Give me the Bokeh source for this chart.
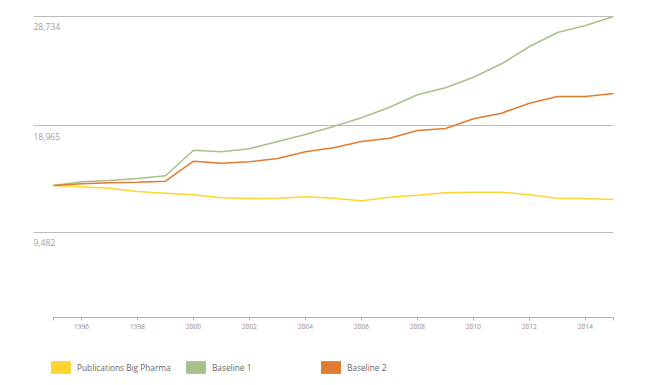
import math
from bokeh.plotting import figure
from bokeh.layouts import column
from bokeh.models import ColumnDataSource, Range1d, FixedTicker, Legend, LegendItem
from bokeh.core.properties import value
from bokeh.embed import file_html
from bokeh.resources import INLINE

years = list(range(1995, 2016))
pharma = [13651, 13535, 13411, 13116, 12965, 12822, 12554, 12492, 12518, 12643, 12518,
          12287, 12608, 12786, 13000, 13054, 13054, 12822, 12518, 12492, 12403]
baseline1 = [13651, 13982, 14098, 14276, 14517, 16801, 16658, 16926, 17577, 18201, 18915,
             19691, 20637, 21743, 22368, 23313, 24509, 26052, 27301, 27926, 28734]
baseline2 = [13651, 13803, 13892, 13946, 14035, 15820, 15641, 15766, 16060, 16658, 17015,
             17577, 17871, 18558, 18737, 19602, 20102, 20994, 21592, 21592, 21859]
series_names = ["Publications Big Pharma", "Baseline 1", "Baseline 2"]
series_colors = ["#FED531", "#A9C08A", "#E07C30"]
y_ticks = [9482, 18965, 28734]
y_tick_labels = ["9,482", "18,965", "28,734"]
x_ticks = [1996, 1998, 2000, 2002, 2004, 2006, 2008, 2010, 2012, 2014]

FONT = "Open Sans"

p = figure(width=645, height=335, output_backend="svg", toolbar_location=None,
           x_range=Range1d(1994.2857, 2015), y_range=Range1d(1875, 29264),
           y_axis_location=None, min_border_left=33, min_border_right=32,
           min_border_top=10, min_border_bottom=18)
p.outline_line_color = None
p.background_fill_color = "white"
p.border_fill_color = "white"

# grid
p.xgrid.visible = False
p.ygrid.ticker = FixedTicker(ticks=y_ticks)
p.ygrid.grid_line_color = "#bdbdbd"
p.ygrid.grid_line_width = 1

# x axis
xa = p.xaxis[0]
xa.ticker = FixedTicker(ticks=x_ticks, minor_ticks=[1995, 2015])
xa.bounds = (1995, 2015)
xa.axis_line_color = "#b0b0b0"
xa.major_tick_line_color = "#b0b0b0"
xa.minor_tick_line_color = "#b0b0b0"
xa.major_tick_out = 3
xa.major_tick_in = 0
xa.minor_tick_out = 3
xa.minor_tick_in = 0
xa.major_label_text_font = FONT
xa.major_label_text_font_size = "6.5px"
xa.major_label_text_color = "#8a8a8a"
xa.major_label_standoff = 3

# y labels inside the plot, under each gridline
lab_src = ColumnDataSource(dict(x=[1994.2857] * len(y_ticks), y=y_ticks, t=y_tick_labels))
p.text(x="x", y="y", text="t", source=lab_src, text_font=value(FONT),
       text_font_size="8.5px", text_color="#a0a0a0", text_baseline="top",
       text_align="left", y_offset=7)

for vals, col in zip([pharma, baseline1, baseline2], series_colors):
    src = ColumnDataSource(dict(x=years, y=vals))
    p.line(x="x", y="y", source=src, line_color=col, line_width=1.5)

# legend strip
lf = figure(width=645, height=45, output_backend="svg", toolbar_location=None,
            x_axis_location=None, y_axis_location=None,
            x_range=Range1d(0, 1), y_range=Range1d(0, 1),
            min_border_left=0, min_border_right=0, min_border_top=0, min_border_bottom=0)
lf.outline_line_color = None
lf.xgrid.visible = False
lf.ygrid.visible = False
items = []
for name, col in zip(series_names, series_colors):
    sw = lf.quad(left=[math.nan], right=[math.nan], top=[math.nan], bottom=[math.nan],
                 fill_color=col, line_color=None)
    items.append(LegendItem(label=name, renderers=[sw]))

legend = Legend(items=items, orientation="horizontal", location=(15, 5),
                glyph_width=25, glyph_height=16, label_standoff=4, label_width=106,
                spacing=0, padding=0, margin=0, border_line_color=None,
                background_fill_alpha=0, label_text_font=FONT,
                label_text_font_size="8.3px", label_text_color="#666666")
lf.add_layout(legend, "center")

open("out.html", "w").write(file_html(column(p, lf), INLINE))
